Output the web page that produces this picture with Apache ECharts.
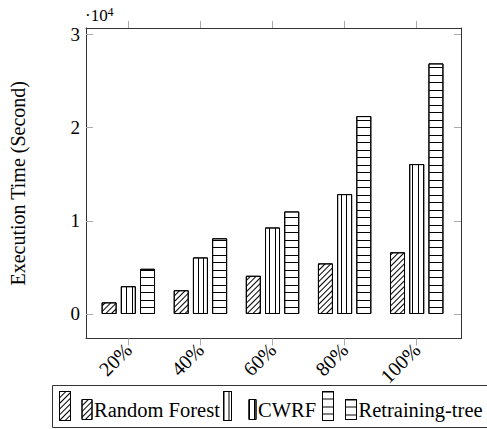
<!DOCTYPE html>
<html>
<head>
<meta charset="utf-8">
<script src="https://cdn.jsdelivr.net/npm/echarts@6/dist/echarts.min.js"></script>
<style>html,body{margin:0;padding:0;background:#fff;}#main{width:487px;height:429px;}</style>
</head>
<body>
<div id="main"></div>
<script>
const categories = ['20%', '40%', '60%', '80%', '100%'];
const randomForest = [1250, 2550, 4100, 5430, 6620];
const cwrf = [2980, 6070, 9280, 12860, 16080];
const retrainingTree = [4850, 8120, 11000, 21230, 26880];
const yTickValues = [0, 10000, 20000, 30000];
const seriesNames = ['Random Forest', 'CWRF', 'Retraining-tree'];

const FONT = 'Liberation Serif, serif';
const xIdx = categories.map((c, i) => i);
const X_MIN = -0.587, X_MAX = 4.614;
const Y_MIN = -2628, Y_MAX = 30677;

const decals = [
  { symbol: 'rect', symbolSize: 1, color: '#000', dashArrayX: [10, 0], dashArrayY: [1, 3], rotation: -Math.PI / 4 },
  { symbol: 'rect', symbolSize: 1, color: '#000', dashArrayX: [1, 4, 1, 5], dashArrayY: [10, 0] },
  { symbol: 'rect', symbolSize: 1, color: '#000', dashArrayX: [10, 0], dashArrayY: [1, 6, 1, 7] }
];
const values = [randomForest, cwrf, retrainingTree];

const chart = echarts.init(document.getElementById('main'), null, { renderer: 'svg', width: 487, height: 429 });

const axisLineStyle = { color: '#333', width: 1 };
const tickStyle = { color: '#aaa', width: 1 };

function legendItem(name, left, top, w, h, withText) {
  return {
    data: [name], left: left, top: top, padding: 0, orient: 'horizontal',
    itemWidth: w, itemHeight: h, selectedMode: false, icon: 'rect',
    itemStyle: { color: '#fff', borderColor: '#000', borderWidth: 1 },
    formatter: withText ? '{name}' : () => '',
    textStyle: { fontFamily: FONT, fontSize: 20.5, color: '#000', padding: [0, 0, 0, -3] }
  };
}

const option = {
  animation: false,
  backgroundColor: '#fff',
  textStyle: { fontFamily: FONT },
  grid: { left: 86, right: 26, top: 28, bottom: 90.5, containLabel: false },
  xAxis: [
    {
      type: 'value', min: X_MIN, max: X_MAX, position: 'bottom',
      axisLine: { show: true, onZero: false, lineStyle: axisLineStyle },
      axisTick: { show: true, inside: false, length: 7, customValues: xIdx, lineStyle: tickStyle },
      axisLabel: { show: true, customValues: xIdx, rotate: 45, margin: 8, formatter: v => categories[Math.round(v)], fontFamily: FONT, fontSize: 20, color: '#000' },
      splitLine: { show: false }
    },
    {
      type: 'value', min: X_MIN, max: X_MAX, position: 'top',
      axisLine: { show: true, onZero: false, lineStyle: axisLineStyle },
      axisTick: { show: true, inside: false, length: 7, customValues: xIdx, lineStyle: tickStyle },
      axisLabel: { show: false },
      splitLine: { show: false }
    }
  ],
  yAxis: [
    {
      type: 'value', min: Y_MIN, max: Y_MAX, position: 'left',
      axisLine: { show: true, onZero: false, lineStyle: axisLineStyle },
      axisTick: { show: true, inside: true, length: 7, customValues: yTickValues, lineStyle: tickStyle },
      axisLabel: { show: true, customValues: yTickValues, margin: 6, formatter: v => String(Math.round(v / 10000)), fontFamily: FONT, fontSize: 19, color: '#000' },
      splitLine: { show: false },
      name: 'Execution Time (Second)', nameLocation: 'middle', nameGap: 58,
      nameTextStyle: { fontFamily: FONT, fontSize: 20, color: '#000' }
    },
    {
      type: 'value', min: Y_MIN, max: Y_MAX, position: 'right',
      axisLine: { show: true, onZero: false, lineStyle: axisLineStyle },
      axisTick: { show: true, inside: true, length: 7, customValues: yTickValues, lineStyle: tickStyle },
      axisLabel: { show: false },
      splitLine: { show: false }
    }
  ],
  legend: [
    legendItem(seriesNames[0], 59, 391, 11, 29, false),
    legendItem(seriesNames[0], 81.5, 399, 10, 20, true),
    legendItem(seriesNames[1], 223, 391, 8, 29, false),
    legendItem(seriesNames[1], 248.5, 399, 7, 20, true),
    legendItem(seriesNames[2], 322, 391, 11, 29, false),
    legendItem(seriesNames[2], 345, 399, 11, 20, true)
  ],
  graphic: [
    { type: 'rect', shape: { x: 52.5, y: 385.5, width: 450, height: 42 }, style: { fill: 'none', stroke: '#333', lineWidth: 1 }, z: 0, silent: true },
    { type: 'text', x: 85, y: 24, style: { text: '·10', fontFamily: FONT, fontSize: 17, fill: '#000', verticalAlign: 'bottom' }, silent: true },
    { type: 'text', x: 107.5, y: 18, style: { text: '4', fontFamily: FONT, fontSize: 12, fill: '#000', verticalAlign: 'bottom' }, silent: true }
  ],
  series: seriesNames.map((name, s) => ({
    name: name, type: 'bar', xAxisIndex: 0, yAxisIndex: 0,
    barWidth: 15, barGap: '28%',
    itemStyle: { color: '#fff', borderColor: '#000', borderWidth: 1, decal: decals[s] },
    emphasis: { disabled: true },
    data: xIdx.map(i => [i, values[s][i]])
  }))
};
chart.setOption(option);
</script>
</body>
</html>
